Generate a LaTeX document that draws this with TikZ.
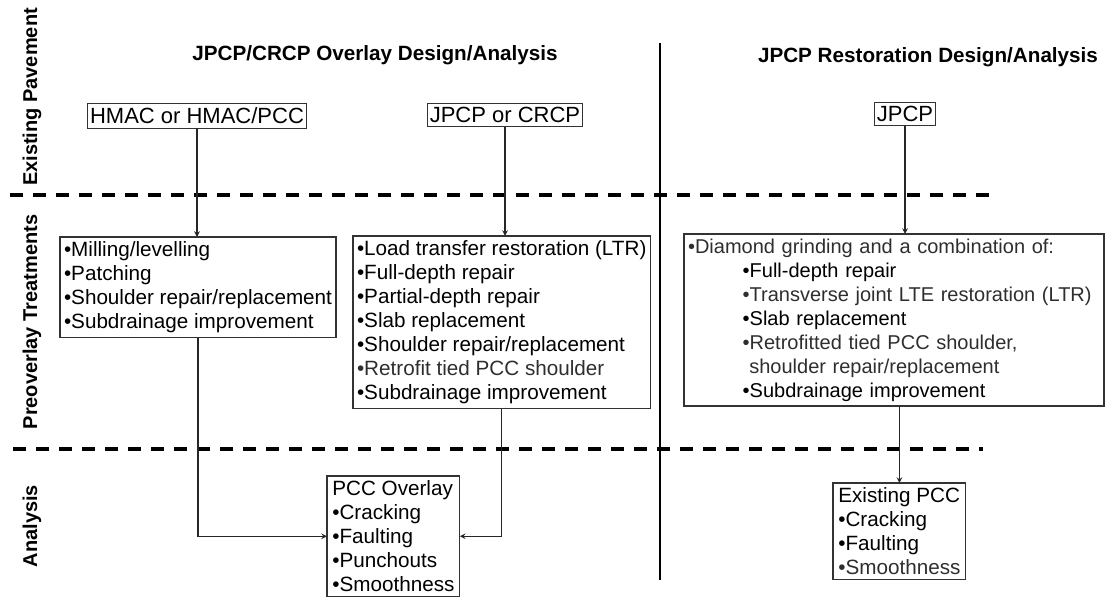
\documentclass[tikz,border=0pt]{standalone}
\usepackage{fontspec}
\setmainfont{Liberation Sans}
\usepackage{xcolor}
\usetikzlibrary{positioning}
\usetikzlibrary{arrows}
\tikzset{>=stealth}
\colorlet{softtext}{black!82}
\newcommand{\subindent}{\hspace*{41pt}}

\begin{document}
\begin{tikzpicture}[x=0.75pt, y=-0.75pt, outer sep=0pt,
  rowlabel/.style={rotate=90, font=\bfseries\fontsize{15}{18}\selectfont},
  headline/.style={anchor=base, font=\bfseries\fontsize{15.5}{18}\selectfont},
  pavebox/.style={draw=black!80, line width=0.8pt, inner xsep=2pt, inner ysep=3pt, font=\fontsize{16.5}{20}\selectfont},
  listbox/.style={draw=black!80, line width=0.8pt, align=left, anchor=north west, inner xsep=3pt, inner ysep=3.5pt, font=\fontsize{15.5}{18}\selectfont},
  sepline/.style={line width=3pt, dash pattern=on 9.75pt off 7.5pt},
  link/.style={->, line width=0.9pt, black!85}]
\useasboundingbox (0,0) rectangle (1108,601);

% row labels
\node[rowlabel] (rowexist) at (32,97) {Existing Pavement};
\node[rowlabel] (rowtreat) at (32,322) {Preoverlay Treatments};
\node[rowlabel] (rowanal) at (32,526) {Analysis};

% separators
\draw[sepline] (10,195) -- (995,195);
\draw[sepline] (13,449) -- (983,449);
\draw[line width=0.8pt] (660,43) -- (660,580);

% headings
\node[headline] (overlayhead) at (375,60) {JPCP/CRCP Overlay Design/Analysis};
\node[headline] (restorehead) at (928,62) {JPCP Restoration Design/Analysis};

% existing pavement
\node[pavebox] (hmac) at (197,116) {HMAC or HMAC/PCC};
\node[pavebox] (jcrcp) at (505,115) {JPCP or CRCP};
\node[pavebox] (jpcp) at (905,114) {JPCP};

% preoverlay treatments
\node[listbox] (treatA) at (60,237) {\textbullet Milling/levelling\\
  \textbullet Patching\\
  \textbullet Shoulder repair/replacement\\
  \textbullet Subdrainage improvement};
\node[listbox] (treatB) at (353,236) {\textbullet Load transfer restoration (LTR)\\
  \textbullet Full-depth repair\\
  \textbullet Partial-depth repair\\
  \textbullet Slab replacement\\
  \textbullet Shoulder repair/replacement\\
  {\color{softtext}\textbullet Retrofit tied PCC shoulder}\\
  \textbullet Subdrainage improvement};
\node[listbox, text width=309pt, font=\fontsize{15}{18}\selectfont] (treatC) at (684,234) {{\color{softtext}\textbullet Diamond grinding and a combination of:}\\
  \subindent\textbullet Full-depth repair\\
  {\color{softtext}\subindent\textbullet Transverse joint LTE restoration (LTR)}\\
  \subindent\textbullet Slab replacement\\
  {\color{softtext}\subindent\textbullet Retrofitted tied PCC shoulder,}\\
  {\color{softtext}\subindent\ shoulder repair/replacement}\\
  \subindent\textbullet Subdrainage improvement};

% analysis
\node[listbox, inner xsep=4pt] (overlay) at (327,476) {PCC Overlay\\
  \textbullet Cracking\\
  \textbullet Faulting\\
  \textbullet Punchouts\\
  \textbullet Smoothness};
\node[listbox, inner xsep=4pt] (expcc) at (833,483) {Existing PCC\\
  \textbullet Cracking\\
  \textbullet Faulting\\
  {\color{softtext}\textbullet Smoothness}};

% connectors
\draw[link] (hmac.south) -- (hmac.south |- treatA.north);
\draw[link] (jcrcp.south) -- (jcrcp.south |- treatB.north);
\draw[link] (jpcp.south) -- (jpcp.south |- treatC.north);
\draw[link] (treatA.south) |- (overlay.west);
\draw[link] (treatB.south) |- (overlay.east);
\draw[link] (treatC.south -| expcc.north) -- (expcc.north);
\end{tikzpicture}
\end{document}
